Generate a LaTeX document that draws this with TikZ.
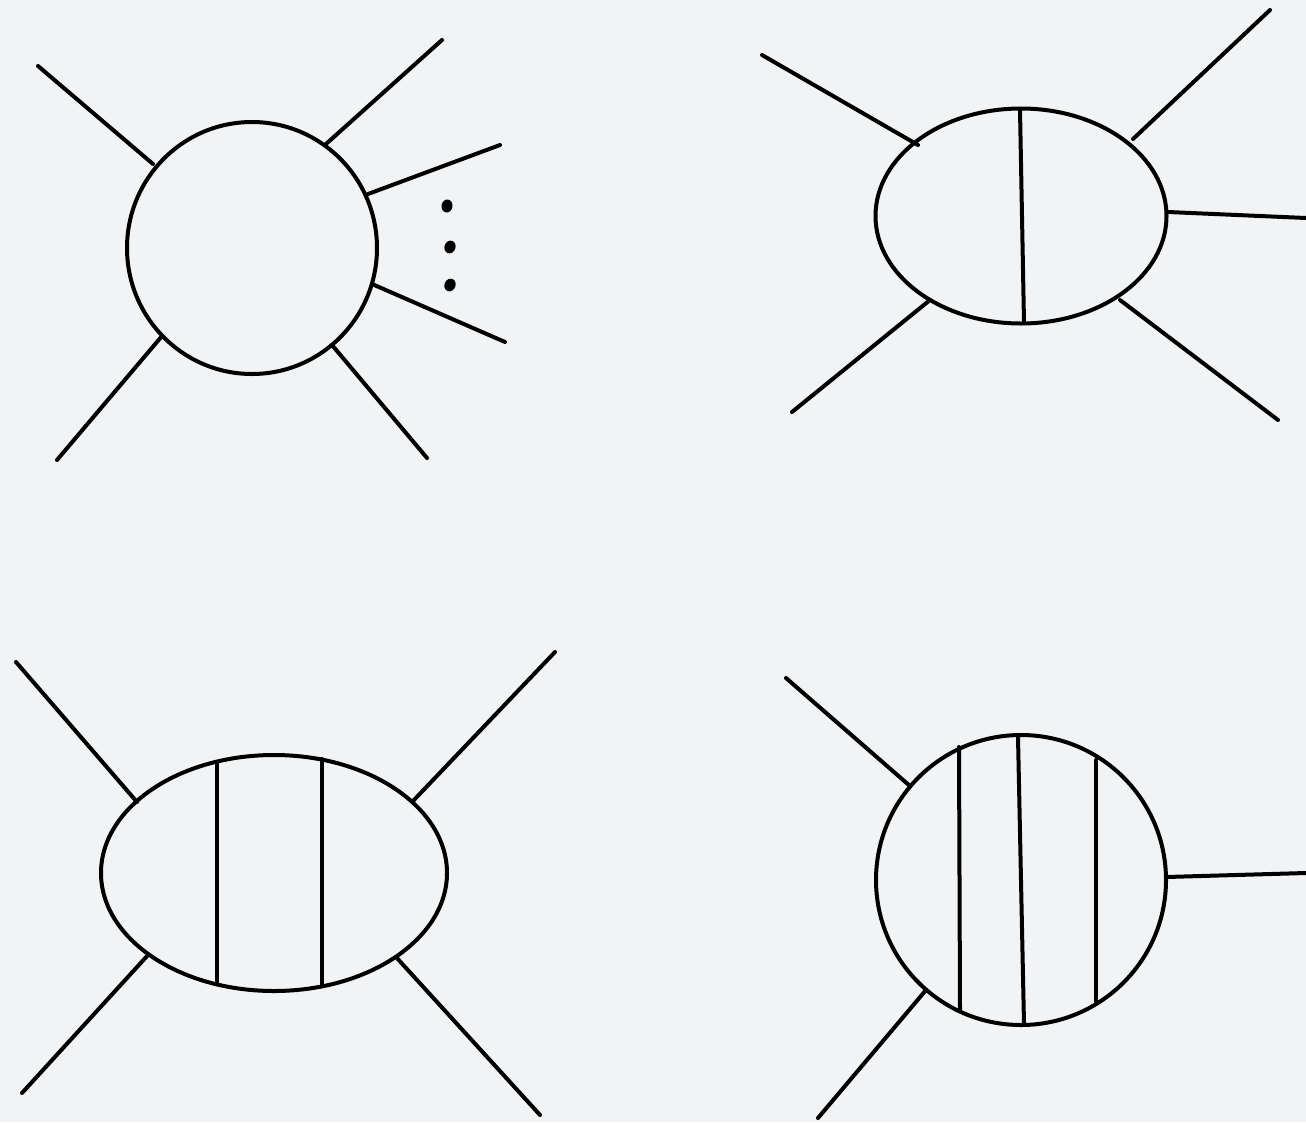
\documentclass[tikz,border=0pt]{standalone}
\usetikzlibrary{shapes.geometric}
\definecolor{bg}{RGB}{242,243,244}
\begin{document}
\begin{tikzpicture}[x=1pt,y=-1pt,
  blob/.style={draw=black,ellipse,line width=4pt,inner sep=0pt},
  leg/.style={draw=black,line width=4pt,line cap=round},
  dotmark/.style={fill=black,ellipse,inner sep=0pt,minimum width=11pt,minimum height=13pt}]
\fill[bg] (0,0) rectangle (1306,1122);
\useasboundingbox (0,0) rectangle (1306,1122);
% top-left
\node[blob,minimum width=250pt,minimum height=252pt] (A) at (252,248) {};
\coordinate (a1) at (38,66);   \coordinate (a1e) at (153,164);
\coordinate (a2) at (442,40);  \coordinate (a2e) at (326,144);
\coordinate (a3) at (500,145); \coordinate (a3e) at (368,194);
\coordinate (a4) at (505,342); \coordinate (a4e) at (372,284);
\coordinate (a5) at (427,458); \coordinate (a5e) at (332,345);
\coordinate (a6) at (57,460);  \coordinate (a6e) at (162,336);
\foreach \i in {1,...,6}{\draw[leg] (a\i) -- (a\i e);}
\node[dotmark,rotate=-10] (d1) at (447,206) {};
\node[dotmark,rotate=-20] (d2) at (450,247) {};
\node[dotmark,rotate=-25] (d3) at (450,285) {};
% top-right
\node[blob,minimum width=291pt,minimum height=215pt] (B) at (1021,216) {};
\coordinate (bt) at (1020,110); \coordinate (bb) at (1024,323);
\draw[leg] (bt) -- (bb);
\coordinate (b1) at (762,55);   \coordinate (b1e) at (918,145);
\coordinate (b2) at (1270,10);  \coordinate (b2e) at (1133,139);
\coordinate (b3) at (1306,218); \coordinate (b3e) at (1168,212);
\coordinate (b4) at (1278,420); \coordinate (b4e) at (1120,300);
\coordinate (b5) at (792,412);  \coordinate (b5e) at (930,300);
\foreach \i in {1,...,5}{\draw[leg] (b\i) -- (b\i e);}
% bottom-left
\node[blob,minimum width=346pt,minimum height=236pt] (C) at (274,873) {};
\coordinate (ct1) at (217,763); \coordinate (cb1) at (217,984);
\coordinate (ct2) at (322,759); \coordinate (cb2) at (322,986);
\draw[leg] (ct1) -- (cb1);
\draw[leg] (ct2) -- (cb2);
\coordinate (c1) at (16,662);   \coordinate (c1e) at (137,802);
\coordinate (c2) at (555,652);  \coordinate (c2e) at (413,801);
\coordinate (c3) at (22,1093);  \coordinate (c3e) at (148,955);
\coordinate (c4) at (540,1115); \coordinate (c4e) at (396,957);
\foreach \i in {1,...,4}{\draw[leg] (c\i) -- (c\i e);}
% bottom-right
\node[blob,minimum width=290pt,minimum height=290pt] (D) at (1021,880) {};
\coordinate (dt1) at (959,747);  \coordinate (db1) at (960,1010);
\coordinate (dt2) at (1018,737); \coordinate (db2) at (1024,1024);
\coordinate (dt3) at (1096,760); \coordinate (db3) at (1096,1002);
\foreach \i in {1,2,3}{\draw[leg] (dt\i) -- (db\i);}
\coordinate (e1) at (786,678);   \coordinate (e1e) at (910,786);
\coordinate (e2) at (1306,873);  \coordinate (e2e) at (1166,877);
\coordinate (e3) at (818,1118);  \coordinate (e3e) at (926,990);
\foreach \i in {1,2,3}{\draw[leg] (e\i) -- (e\i e);}
\end{tikzpicture}
\end{document}
